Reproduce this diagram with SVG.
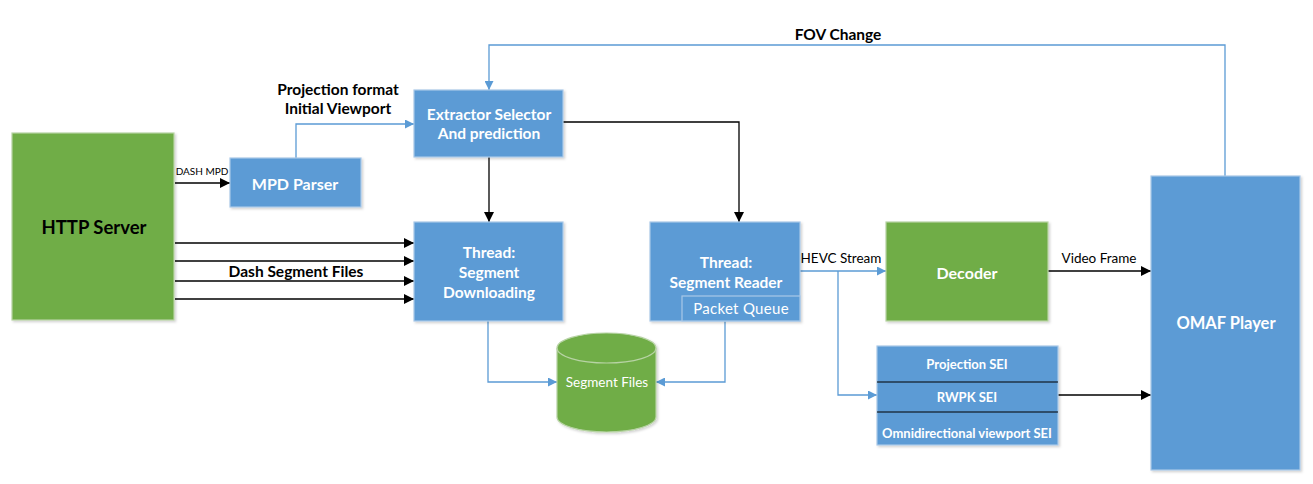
<svg xmlns="http://www.w3.org/2000/svg" width="1313" height="484" viewBox="0 0 1313 484">
<defs>
<marker id="ab" viewBox="0 0 10 10" refX="10" refY="5" markerWidth="12" markerHeight="10" markerUnits="userSpaceOnUse" orient="auto"><path d="M0,0 L10,5 L0,10 z" fill="#000"/></marker>
<marker id="bb" viewBox="0 0 10 10" refX="10" refY="5" markerWidth="10" markerHeight="9" markerUnits="userSpaceOnUse" orient="auto"><path d="M0,0 L10,5 L0,10 z" fill="#5B9BD5"/></marker>
<filter id="sh" x="-10%" y="-10%" width="130%" height="130%"><feDropShadow dx="1.5" dy="1.5" stdDeviation="1.2" flood-color="#000" flood-opacity="0.18"/></filter>
</defs>
<style>
.blue{fill:#5B9BD5;stroke:#A9C8E8;stroke-width:1.2;filter:url(#sh)}
.green{fill:#70AD47;stroke:#B7D3A4;stroke-width:1.2;filter:url(#sh)}
text{font-family:Lato,"Liberation Sans",sans-serif;text-anchor:middle;dominant-baseline:central}
.wb{fill:#fff;font-weight:bold;font-size:15.5px}
.kb{fill:#000;font-weight:bold;font-size:15.5px}
.kn{fill:#000;font-size:13.5px}
.c-k{fill:none;stroke:#000;stroke-width:1.3;marker-end:url(#ab)}
.c-b{fill:none;stroke:#5B9BD5;stroke-width:1.3;marker-end:url(#bb)}
.c-bn{fill:none;stroke:#5B9BD5;stroke-width:1.3}
</style>
<rect width="1313" height="484" fill="#fff"/>

<g id="connectors">
<path class="c-k" d="M175,183 H230"/>
<path class="c-k" d="M175,243 H414"/>
<path class="c-k" d="M175,261 H414"/>
<path class="c-k" d="M175,281 H414"/>
<path class="c-k" d="M175,299 H414"/>
<path class="c-b" d="M296,158 V124 H414"/>
<path class="c-b" d="M1225,176 V45 H489 V90"/>
<path class="c-k" d="M489,157 V222"/>
<path class="c-k" d="M563,122 H739 V222"/>
<path class="c-b" d="M488,321 V382 H557"/>
<path class="c-b" d="M725,321 V382 H656"/>
<path class="c-b" d="M800,271 H886"/>
<path class="c-b" d="M838,271 V395 H877"/>
<path class="c-k" d="M1048,271 H1151"/>
<path class="c-k" d="M1058,395 H1151"/>
<text x="202" y="171" style="font-size:10px;fill:#000">DASH MPD</text>
<text x="296" y="271" class="kb">Dash Segment Files</text>
<text x="338" y="89" class="kb">Projection format</text>
<text x="338" y="108" class="kb">Initial Viewport</text>
<text x="838" y="34" class="kb">FOV Change</text>
<text x="841" y="258" class="kn">HEVC Stream</text>
<text x="1099" y="258" class="kn">Video Frame</text>
</g>

<g id="http-server">
<rect class="green" x="12" y="133" width="162" height="187"/>
<text x="94" y="227" class="kb" style="font-size:18.5px">HTTP Server</text>
</g>

<g id="mpd-parser">
<rect class="blue" x="230" y="158" width="131" height="49"/>
<text x="295" y="183" class="wb" style="font-size:16px">MPD Parser</text>
</g>

<g id="extractor-selector">
<rect class="blue" x="414" y="90" width="149" height="67"/>
<text x="489" y="114" class="wb">Extractor Selector</text>
<text x="489" y="133" class="wb">And prediction</text>
</g>

<g id="segment-downloading">
<rect class="blue" x="414" y="222" width="149" height="99"/>
<text x="489" y="252" class="wb">Thread:</text>
<text x="489" y="272" class="wb">Segment</text>
<text x="489" y="292" class="wb">Downloading</text>
</g>

<g id="segment-reader">
<rect class="blue" x="650" y="222" width="150" height="99"/>
<text x="726" y="262" class="wb">Thread:</text>
<text x="726" y="282" class="wb">Segment Reader</text>
<rect x="682" y="296" width="118" height="25" fill="#5B9BD5" stroke="#A9C8E8" stroke-width="1.2"/>
<text x="741" y="308" style="fill:#fff;font-size:15px;letter-spacing:0.3px">Packet Queue</text>
</g>

<g id="segment-files">
<path class="green" d="M557,348 A49.5,15 0 0 1 656,348 V417 A49.5,15 0 0 1 557,417 Z"/>
<path d="M557,348 A49.5,15 0 0 0 656,348" fill="none" stroke="#B7D3A4" stroke-width="1.2"/>
<text x="607" y="382" style="fill:#fff;font-size:13.5px">Segment Files</text>
</g>

<g id="decoder">
<rect class="green" x="886" y="222" width="162" height="99"/>
<text x="967" y="272" class="wb" style="font-size:16px">Decoder</text>
</g>

<g id="sei">
<rect class="blue" x="877" y="346" width="181" height="99"/>
<line x1="877" y1="382" x2="1058" y2="382" stroke="#000" stroke-width="1.2"/>
<line x1="877" y1="412" x2="1058" y2="412" stroke="#000" stroke-width="1.2"/>
<text x="967" y="364" class="wb" style="font-size:13px">Projection SEI</text>
<text x="967" y="397" class="wb" style="font-size:13px">RWPK SEI</text>
<text x="967" y="433" class="wb" style="font-size:13px">Omnidirectional viewport SEI</text>
</g>

<g id="omaf-player">
<rect class="blue" x="1151" y="176" width="149" height="294"/>
<text x="1226" y="323" class="wb" style="font-size:16.5px">OMAF Player</text>
</g>
</svg>
